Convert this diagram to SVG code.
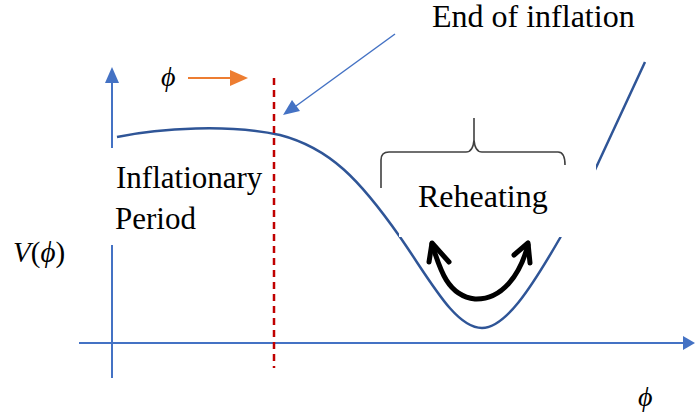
<svg xmlns="http://www.w3.org/2000/svg" width="695" height="418" viewBox="0 0 695 418">
<defs>
<style>
.axis{stroke:#4472C4;stroke-width:2;fill:none}
.curve{stroke:#2F5597;stroke-width:2.5;fill:none}
.ink{fill:none;stroke:#000;stroke-width:5;stroke-linecap:round;stroke-linejoin:round}
</style>
</defs>
<rect width="695" height="418" fill="#fff"/>

<g id="axes">
<line class="axis" x1="112" y1="378" x2="112" y2="245"/>
<line class="axis" x1="112" y1="148" x2="112" y2="82"/>
<path d="M112,67 L119,83 L105,83 z" fill="#4472C4"/>
<line class="axis" x1="79" y1="343" x2="683" y2="343"/>
<path d="M695,343 L683,336 L683,350 z" fill="#4472C4"/>
</g>

<g id="potential">
<path class="curve" d="M117,137 C160,128 230,124 280,135 C330,148 360,180 400,237 C430,280 455,328 482,328 C505,328 530,290 560,238 L594,172 L645,62"/>
</g>

<g id="connectors">
<line x1="274" y1="78" x2="274" y2="368" stroke="#C00000" stroke-width="2.5" stroke-dasharray="7,5"/>
<line x1="188" y1="78" x2="232" y2="78" stroke="#ED7D31" stroke-width="2"/>
<path d="M248,78 L230,70 L230,86 z" fill="#ED7D31"/>
<line x1="395" y1="34" x2="296" y2="106" stroke="#4472C4" stroke-width="1.5"/>
<path d="M283,115 L292,100 L300,111 z" fill="#4472C4"/>
</g>

<g id="inflationary">
<text x="116" y="188" style="font-family:'Liberation Serif';font-size:31px">Inflationary</text>
<text x="115" y="229" style="font-family:'Liberation Serif';font-size:31px">Period</text>
</g>

<g id="end-label">
<text x="432" y="27" style="font-family:'Liberation Serif';font-size:32px">End of inflation</text>
</g>

<g id="reheating">
<rect x="399" y="160" width="197" height="77" fill="#fff"/>
<path d="M381,188 L381,160 Q381,152 389,152 L466,152 Q473,152 474,140 L474,118 M474,118 L474,140 Q475,152 482,152 L558,152 Q565,152 565,165" fill="none" stroke="#404040" stroke-width="1.6"/>
<text x="418" y="207" style="font-family:'Liberation Serif';font-size:32px">Reheating</text>
<path class="ink" d="M432,244 C440,270 448,296 475,299 C502,300 520,275 528,245"/>
<path class="ink" d="M429,262 L432,243 L449,262"/>
<path class="ink" d="M514,255 L528,243 L530,263"/>
</g>

<g id="labels">
<text x="13" y="262" style="font-family:'Liberation Serif';font-size:29px"><tspan style="font-style:italic">V</tspan>(<tspan style="font-style:italic">ϕ</tspan>)</text>
<text x="161" y="86" style="font-family:'Liberation Serif';font-size:28px;font-style:italic">ϕ</text>
<text x="638" y="406" style="font-family:'Liberation Serif';font-size:28px;font-style:italic">ϕ</text>
</g>
</svg>
